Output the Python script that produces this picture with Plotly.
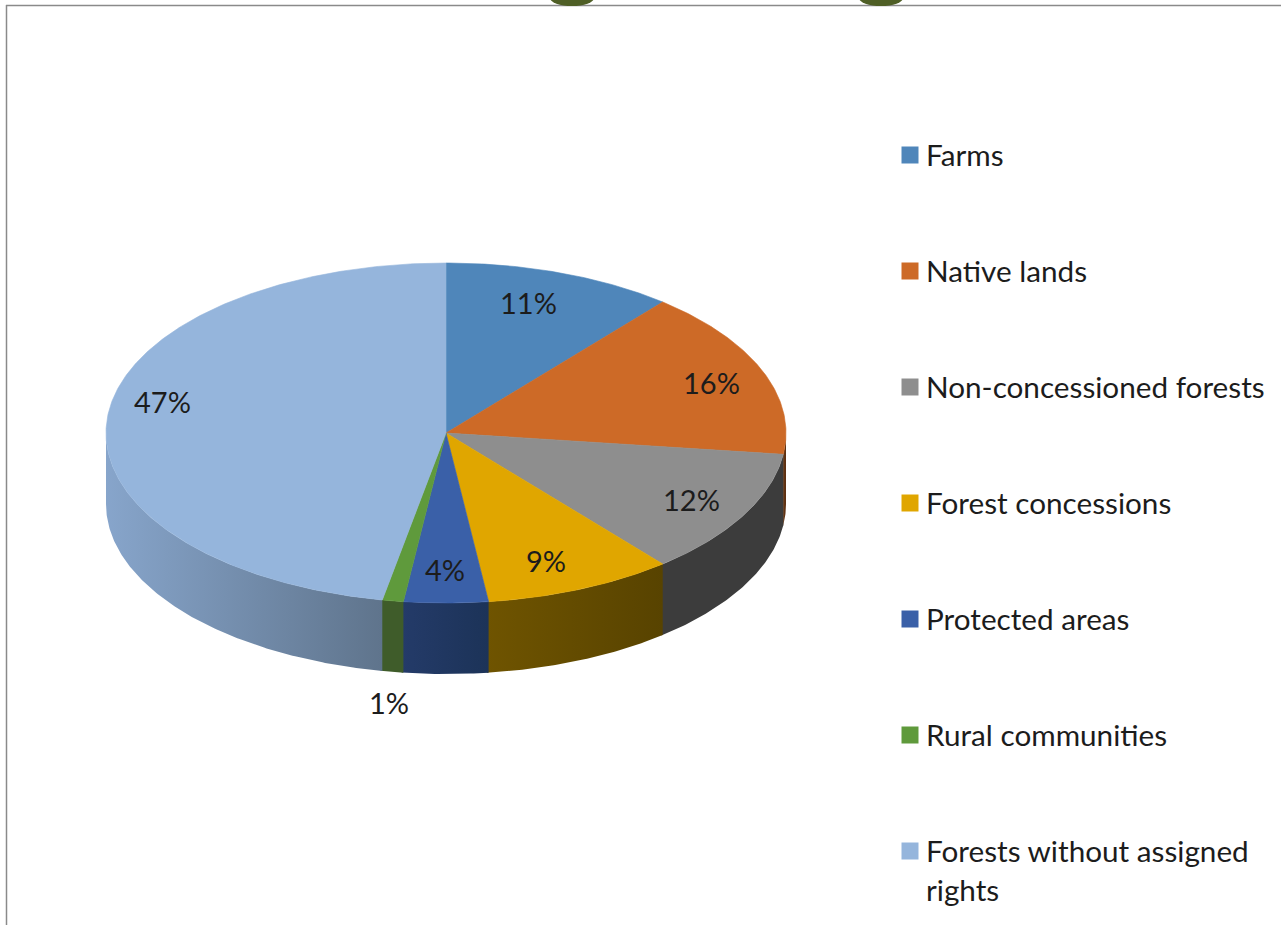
import numpy as np
import plotly.graph_objects as go

# Land tenure shares, in percent, clockwise from twelve o'clock
categories = ["Farms", "Native lands", "Non-concessioned forests", "Forest concessions",
              "Protected areas", "Rural communities", "Forests without assigned rights"]
legend_labels = ["Farms", "Native lands", "Non-concessioned forests", "Forest concessions",
                 "Protected areas", "Rural communities", "Forests without assigned<br>rights"]
shares = [11, 16, 12, 9, 4, 1, 47]

top_colors = ["#4f86ba", "#cd6a27", "#8e8e8e", "#e0a600", "#3a60a8", "#5f9a3c", "#95b5dc"]
# Wall shading, left colour then right colour
wall_stops = {
    "Native lands": ("#6a3814", "#5a2e10"),
    "Non-concessioned forests": ("#3c3c3c", "#3c3c3c"),
    "Forest concessions": ("#6f5400", "#584300"),
    "Protected areas": ("#243b69", "#1c3358"),
    "Rural communities": ("#3f5c2a", "#3f5c2a"),
    "Forests without assigned rights": ("#87a5cb", "#5f748c"),
}

# Geometry of the tilted disc, in page pixels
CX, CY, RX, RY, DEPTH = 446, 433, 340, 170, 71
FONT = "Lato, Carlito, Calibri, sans-serif"
TEXT = "#1c1c1c"
LABEL_SIZE = 29
LEGEND_SIZE = 29.7

# Pixel nudges that fine-tune the labels around their default spot on the slice
LABEL_NUDGE = [(-11, -1), (9, 0), (4, 0.5), (-9, 1), (-1, -1), (7, -3), (-9, -19)]


def rim(start_deg, end_deg, drop=0):
    a = np.radians(np.linspace(start_deg, end_deg, max(int(abs(end_deg - start_deg) * 2), 2) + 1))
    return CX + RX * np.sin(a), CY - RY * np.cos(a) + drop


fig = go.Figure()
boundaries = np.cumsum([0] + shares) * 3.6
annotations = []

# Visible outer wall: only the part of each slice on the near side of the disc.
# Each wall runs slightly under its neighbour so no seam shows between them.
for name, start, end in zip(categories, boundaries[:-1], boundaries[1:]):
    lo, hi = max(start, 90), min(end + 0.3, 270)
    if lo >= hi:
        continue
    tx, ty = rim(lo, hi)
    bx, by = rim(hi, lo, DEPTH)
    left, right = wall_stops[name]
    fig.add_trace(go.Scatter(
        x=np.r_[tx, bx], y=np.r_[ty, by], mode="lines", fill="toself",
        line=dict(width=0), hoverinfo="skip", showlegend=False,
        fillgradient=dict(type="horizontal", colorscale=[[0, left], [1, right]]),
    ))

# Top face of each slice
for name, color, start, end in zip(categories, top_colors, boundaries[:-1], boundaries[1:]):
    rx, ry = rim(start, end)
    fig.add_trace(go.Scatter(
        x=np.r_[CX, rx, CX], y=np.r_[CY, ry, CY], mode="lines", fill="toself",
        fillcolor=color, line=dict(width=0.6, color=color), name=name,
        hoverinfo="skip", showlegend=False,
    ))

# Percentage labels placed along each slice's mid-angle
for value, start, end, (dx, dy) in zip(shares, boundaries[:-1], boundaries[1:], LABEL_NUDGE):
    mid = np.radians((start + end) / 2)
    outside = value < 2
    reach = 1.2 if outside else 0.81
    annotations.append(dict(
        x=CX + RX * reach * np.sin(mid),
        y=CY - RY * reach * np.cos(mid) + (DEPTH if outside else 0),
        text=f"{value}%", showarrow=False, xshift=dx, yshift=-dy,
        font=dict(family=FONT, size=LABEL_SIZE, color=TEXT),
    ))

# Legend column: square swatches with labels on a fixed step
LEGEND_Y0, LEGEND_STEP = 155, 116
legend_y = [LEGEND_Y0 + LEGEND_STEP * i for i in range(len(categories))]
fig.add_trace(go.Scatter(
    x=[910] * len(categories), y=legend_y, mode="markers",
    marker=dict(symbol="square", size=17, color=top_colors, line=dict(width=0)),
    hoverinfo="skip", showlegend=False,
))
for label, y in zip(legend_labels, legend_y):
    annotations.append(dict(
        x=927, y=y - 20.5, text=label, showarrow=False, xanchor="left", yanchor="top",
        align="left", xshift=-3, font=dict(family=FONT, size=LEGEND_SIZE, color=TEXT),
    ))

shapes = [
    # Frame of the chart area
    dict(type="line", x0=6, x1=1281, y0=5.5, y1=5.5, line=dict(color="#8a8a8a", width=1.5)),
    dict(type="line", x0=6.5, x1=6.5, y0=5, y1=925, line=dict(color="#8a8a8a", width=1.5)),
    # Ends of the two green connectors cut off at the frame
    dict(type="circle", x0=550, x1=594, y0=-10, y1=6, fillcolor="#4f5f26", line=dict(width=0), layer="above"),
    dict(type="circle", x0=859, x1=903, y0=-10, y1=6, fillcolor="#4f5f26", line=dict(width=0), layer="above"),
]

fig.update_layout(
    width=1281, height=925, margin=dict(l=0, r=0, t=0, b=0),
    paper_bgcolor="white", plot_bgcolor="white", showlegend=False,
    xaxis=dict(range=[0, 1281], visible=False, fixedrange=True),
    yaxis=dict(range=[925, 0], visible=False, fixedrange=True),
    annotations=annotations, shapes=shapes,
)

fig.write_html("out.html", config=dict(displayModeBar=False))
